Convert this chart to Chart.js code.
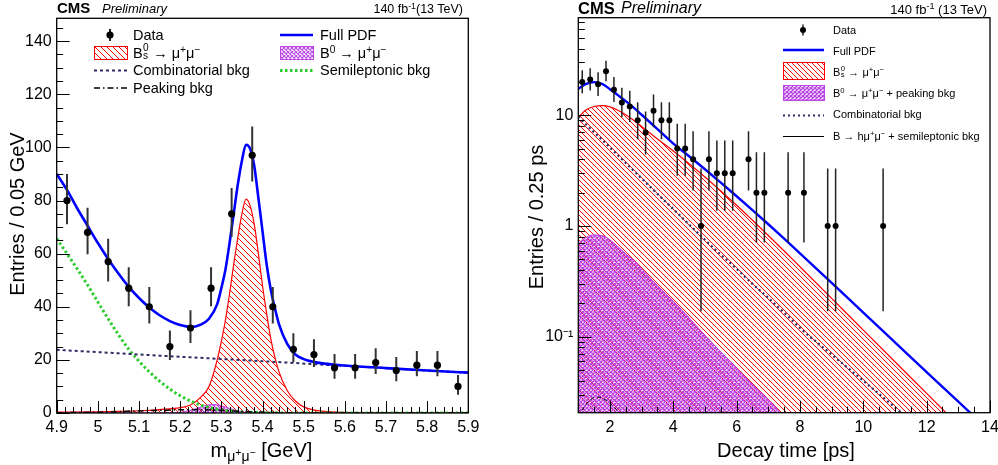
<!DOCTYPE html>
<html><head><meta charset="utf-8">
<script src="https://cdn.jsdelivr.net/npm/chart.js@4.4.0/dist/chart.umd.min.js"></script>
<style>
html,body{margin:0;padding:0;background:#fff;overflow:hidden;width:998px;height:465px}
body{position:relative;font-family:"Liberation Sans",Arial,sans-serif;color:#000}
canvas{position:absolute;top:0}
.t{position:absolute;white-space:nowrap;line-height:1}
sup{font-size:0.7em;vertical-align:0.5em;line-height:0}
sub{font-size:0.7em;vertical-align:-0.3em;line-height:0}
sub sup{font-size:0.75em;vertical-align:0.45em}
.ss{display:inline-block;position:relative;width:0.45em;height:1em;vertical-align:top}
.ss .u{position:absolute;left:0.04em;top:-0.28em;font-size:0.7em;line-height:1}
.ss .d{position:absolute;left:0.04em;top:0.52em;font-size:0.7em;line-height:1}
.rot{position:absolute;width:300px;height:20px;line-height:20px;text-align:center;font-size:20px;transform:rotate(-90deg);white-space:nowrap}
.xt{position:absolute;width:300px;text-align:center;font-size:20px;line-height:20px;white-space:nowrap}
</style></head>
<body>
<canvas id="cL" width="499" height="465" style="left:0;width:499px;height:465px"></canvas>
<canvas id="cR" width="510" height="465" style="left:499px;width:510px;height:465px"></canvas>

<!-- left panel texts -->
<div class="t" style="left:57px;top:0px;font-size:15px;font-weight:bold">CMS</div>
<div class="t" style="left:102px;top:2px;font-size:13px;font-style:italic">Preliminary</div>
<div class="t" style="right:535px;top:3px;font-size:12.5px">140 fb<sup>-1</sup>(13 TeV)</div>
<div class="t" style="left:133px;top:28px;font-size:14.5px">Data</div>
<div class="t" style="left:133px;top:45.6px;font-size:14.5px">B<span class="ss"><span class="u">0</span><span class="d">s</span></span> → μ<sup>+</sup>μ<sup>−</sup></div>
<div class="t" style="left:133px;top:63.3px;font-size:14.5px">Combinatorial bkg</div>
<div class="t" style="left:133px;top:81px;font-size:14.5px">Peaking bkg</div>
<div class="t" style="left:320px;top:28px;font-size:14.5px">Full PDF</div>
<div class="t" style="left:320px;top:45.6px;font-size:14.5px">B<sup>0</sup> → μ<sup>+</sup>μ<sup>−</sup></div>
<div class="t" style="left:320px;top:63.3px;font-size:14.5px">Semileptonic bkg</div>
<div class="rot" style="left:-133px;top:204px">Entries / 0.05 GeV</div>
<div class="xt" style="left:111.5px;top:440px">m<sub>μ<sup>+</sup>μ<sup>−</sup></sub> [GeV]</div>

<!-- right panel texts -->
<div class="t" style="left:578px;top:-0.5px;font-size:16.5px;font-weight:bold">CMS</div>
<div class="t" style="left:621px;top:0px;font-size:16px;font-style:italic">Preliminary</div>
<div class="t" style="right:11px;top:3px;font-size:13px">140 fb<sup>-1</sup> (13 TeV)</div>
<div class="t" style="left:833px;top:24.6px;font-size:11px">Data</div>
<div class="t" style="left:833px;top:45.8px;font-size:11px">Full PDF</div>
<div class="t" style="left:833px;top:67px;font-size:11px">B<span class="ss"><span class="u">0</span><span class="d">s</span></span> → μ<sup>+</sup>μ<sup>−</sup></div>
<div class="t" style="left:833px;top:88.2px;font-size:11px">B<sup>0</sup> → μ<sup>+</sup>μ<sup>−</sup> + peaking bkg</div>
<div class="t" style="left:833px;top:109.4px;font-size:11px">Combinatorial bkg</div>
<div class="t" style="left:833px;top:130.6px;font-size:11px">B → hμ<sup>+</sup>μ<sup>−</sup> + semileptonic bkg</div>
<div class="rot" style="left:386px;top:207px">Entries / 0.25 ps</div>
<div class="xt" style="left:636px;top:440px">Decay time [ps]</div>

<script>
// ---------------- LEFT PANEL DATA (mass) ----------------
const massBinCenters = [4.925,4.975,5.025,5.075,5.125,5.175,5.225,5.275,5.325,5.375,5.425,5.475,5.525,5.575,5.625,5.675,5.725,5.775,5.825,5.875];
const massCounts     = [80,68,57,47,40,25,32,47,75,97,40,24,22,17,17,19,16,18,18,10];
const massErrLow     = [8.9,8.2,7.5,6.8,6.3,5.0,5.6,6.8,8.6,9.8,6.3,4.9,4.7,4.1,4.1,4.3,4.0,4.2,4.2,3.1];
const massErrHigh    = [10.0,9.3,8.6,7.9,7.4,6.1,6.7,7.9,9.7,10.9,7.4,6.0,5.8,5.2,5.2,5.4,5.1,5.3,5.3,4.3];

const pdfMass = [4.9,4.925,4.95,4.975,5.0,5.025,5.05,5.075,5.1,5.125,5.15,5.175,5.2,5.225,5.25,5.27,5.29,5.3,5.31,5.32,5.33,5.34,5.35,5.36,5.37,5.38,5.39,5.4,5.41,5.42,5.43,5.44,5.46,5.48,5.5,5.52,5.55,5.6,5.7,5.8,5.9];
const pdfFull = [90,84,77,70.5,64,58,52.5,47.5,43.3,39.7,36.8,34.6,33.1,32.4,33.3,35.5,41,47,54,64,75,86,95,101,99.5,93,81,68.5,56,46.5,39.5,33.5,26,22,20.3,19.4,18.6,17.9,16.9,16.0,15.2];

const bsMass = [4.9,5.0,5.05,5.1,5.15,5.2,5.225,5.25,5.27,5.29,5.3,5.31,5.32,5.33,5.34,5.35,5.36,5.37,5.38,5.39,5.4,5.41,5.42,5.43,5.44,5.46,5.48,5.5,5.52,5.55,5.6,5.65,5.7,5.8,5.9];
const bsPdf  = [0.3,0.45,0.6,0.85,1.3,2.0,3.0,6.0,10,20,27,35,45,56,66,75,80.5,78,71,60,48,37.5,28,21,15.5,8.5,4.5,2.3,1.3,0.6,0.2,0.08,0.03,0.01,0];

const combMass = [4.9,5.15,5.4,5.65,5.9];
const combPdf  = [23.8,21.6,19.5,17.3,15.2];

const semiMass = [4.9,4.925,4.95,4.975,5.0,5.025,5.05,5.075,5.1,5.125,5.15,5.175,5.2,5.225,5.25,5.275,5.3,5.35,5.4,5.45,5.5,5.9];
const semiPdf  = [65.7,60,54.2,48.2,41.8,35.5,29.5,24,19.5,15.5,12,9,6.5,4.5,3.0,1.9,1.2,0.4,0.12,0.03,0,0];

const b0Mass = [4.9,5.16,5.18,5.2,5.22,5.24,5.26,5.28,5.30,5.32,5.34,5.36,5.38,5.40,5.9];
const b0Pdf  = [0,0.01,0.07,0.27,0.8,1.73,2.74,3.2,2.74,1.73,0.8,0.27,0.07,0.01,0];

const peakMass = [4.9,5.0,5.05,5.1,5.15,5.2,5.25,5.3,5.35,5.4,5.45,5.5,5.9];
const peakPdf  = [0.1,0.3,0.5,0.8,1.0,1.2,1.2,1.0,0.6,0.3,0.1,0.05,0];

const massTicks = [4.9,5.0,5.1,5.2,5.3,5.4,5.5,5.6,5.7,5.8,5.9];
const massTickLabels = ['4.9','5','5.1','5.2','5.3','5.4','5.5','5.6','5.7','5.8','5.9'];
const entriesTicks = [0,20,40,60,80,100,120,140];
const entriesTickLabels = ['0','20','40','60','80','100','120','140'];

// ---------------- RIGHT PANEL DATA (decay time) ----------------
const timeBinCenters = [1.125,1.375,1.625,1.875,2.125,2.375,2.625,2.875,3.125,3.375,3.625,3.875,4.125,4.375,4.625,4.875,5.125,5.375,5.625,5.875,6.375,6.625,6.875,7.625,8.125,8.875,9.125,10.625];
const timeCounts     = [20,21,19,25,17,13,12,9,7,11,9,9,5,5,4,1,4,3,3,3,4,2,2,2,2,1,1,1];
const timeLow        = [15.8,16.75,14.9,20.3,13.2,9.6,8.7,6.06,4.42,7.8,6.06,6.06,2.84,2.84,2.09,0.17,2.09,1.37,1.37,1.37,2.09,0.71,0.71,0.71,0.71,0.17,0.17,0.17];
const timeHigh       = [25.5,26.6,24.4,31.0,22.2,17.7,16.6,13.1,10.8,15.4,13.1,13.1,8.38,8.38,7.16,3.30,7.16,5.92,5.92,5.92,7.16,4.64,4.64,4.64,4.64,3.30,3.30,3.30];

const tGrid = [1.0,1.25,1.5,1.75,2.0,2.25,2.5,2.75,3.0,3.5,4.0,4.5,5.0,5.5,6.0,6.5,7.0,7.5,8.0,9.0,10.0,11.0,12.0,13.0,14.0];
const tFull = [17.3,19.2,19.9,19.2,17.2,15.2,13.4,11.7,10.1,7.5,5.55,4.26,3.25,2.46,1.856,1.392,1.037,0.769,0.567,0.306,0.165,0.089,0.048,0.0259,0.014];
const tBs   = [9.6,11.2,12.0,12.2,11.9,11.1,10.1,9.0,7.9,6.1,4.75,3.65,2.77,2.07,1.54,1.127,0.821,0.595,0.4285,0.222,0.1148,0.0594,0.0308,0.0159,0.0082];
const tComb = [9.7,8.2,7.0,6.0,5.1,4.35,3.7,3.15,2.69,1.95,1.42,1.03,0.75,0.55,0.41,0.30,0.224,0.165,0.12,0.069,0.040,0.023,0.0132,0.0076,0.0044];
const tB0   = [0.70,0.79,0.83,0.82,0.75,0.65,0.56,0.49,0.41,0.29,0.21,0.148,0.103,0.073,0.052,0.037,0.027,0.019,0.013,0.0065,0.0032,0.0016,0.0008,0.0004,0.0002];
const hGrid   = [1.0,1.2,1.4,1.6,1.8,2.0,2.2,2.4,2.6,3.0];
const tHmumu  = [0.019,0.0235,0.0272,0.0285,0.0275,0.025,0.022,0.019,0.016,0.011];

const timeTicks = [2,4,6,8,10,12,14];
const timeTickLabels = ['2','4','6','8','10','12','14'];
const logTicks = [0.1,1,10];
const logTickLabels = ['10\u207B\u00B9','1','10'];

// ---------------- helpers ----------------
Chart.defaults.font.family = '"Liberation Sans", Arial, sans-serif';
Chart.defaults.color = '#000';

function pts(xs, ys){ return xs.map((x,i)=>({x:x, y:ys[i]})); }

function hatch(ctx, color, size, lw, cross){
  const c = document.createElement('canvas'); c.width = size; c.height = size;
  const g = c.getContext('2d');
  g.strokeStyle = color; g.lineWidth = lw;
  g.beginPath();
  for (const o of [-size,0,size]) { g.moveTo(o,0); g.lineTo(o+size,size); }
  if (cross) for (const o of [-size,0,size]) { g.moveTo(o,size); g.lineTo(o+size,0); }
  g.stroke();
  return ctx.createPattern(c,'repeat');
}

function linTickList(min,max,step,major){
  const out=[]; const k0=Math.ceil(min/step-1e-9), k1=Math.floor(max/step+1e-9);
  for(let k=k0;k<=k1;k++){ const v=k*step; const r=v/major; out.push([v, Math.abs(r-Math.round(r))<1e-6]); }
  return out;
}
function logTickList(min,max){
  const out=[];
  for(let e=-3;e<=3;e++) for(let m=1;m<=9;m++){ const v=m*Math.pow(10,e); if(v>=min*0.999 && v<=max*1.001) out.push([v, m===1]); }
  return out;
}

function decoPlugin(o){
  return {
    id:'deco',
    beforeDatasetDraw(chart,args){
      const ds = chart.data.datasets[args.index];
      if(!ds.errLow) return;
      const ctx=chart.ctx, xs=chart.scales.x, ys=chart.scales.y, a=chart.chartArea;
      ctx.save(); ctx.beginPath(); ctx.rect(a.left,a.top,a.right-a.left,a.bottom-a.top); ctx.clip();
      ctx.strokeStyle=ds.barColor; ctx.lineWidth=ds.barWidth;
      ds.data.forEach((p,i)=>{
        const x=xs.getPixelForValue(p.x);
        ctx.beginPath(); ctx.moveTo(x, ys.getPixelForValue(ds.errLow[i])); ctx.lineTo(x, ys.getPixelForValue(ds.errHigh[i])); ctx.stroke();
      });
      ctx.restore();
    },
    afterDatasetsDraw(chart){
      const ctx=chart.ctx, a=chart.chartArea, xs=chart.scales.x, ys=chart.scales.y;
      ctx.save(); ctx.strokeStyle='#000'; ctx.lineWidth=1; ctx.setLineDash([]);
      ctx.beginPath();
      o.xTicks.forEach(([v,maj])=>{ const p=Math.round(xs.getPixelForValue(v))+0.5; if(p<a.left-1||p>a.right+1) return; ctx.moveTo(p,a.bottom); ctx.lineTo(p,a.bottom-(maj?o.xMaj:o.xMin)); });
      o.yTicks.forEach(([v,maj])=>{ const p=Math.round(ys.getPixelForValue(v))+0.5; if(p<a.top-1||p>a.bottom+1) return; ctx.moveTo(a.left,p); ctx.lineTo(a.left+(maj?o.yMaj:o.yMin),p); });
      ctx.stroke();
      ctx.lineWidth=1.3;
      ctx.strokeRect(a.left,a.top,a.right-a.left,a.bottom-a.top);
      ctx.restore();
    },
    afterDraw(chart){ o.legend(chart.ctx); }
  };
}

// ---------------- LEFT CHART ----------------
const cL = document.getElementById('cL').getContext('2d');
const NAVY = '#2c2c66', GREEN='#2ecc2e', BLUE='#0000ff', RED='#ff0000', MAG='#bb44e6';
const redL = hatch(cL,RED,6,1,false);
const magL = hatch(cL,MAG,4,1.1,true);

function legendLeft(ctx){
  ctx.save();
  ctx.strokeStyle='#222'; ctx.lineWidth=2; ctx.beginPath(); ctx.moveTo(110,29); ctx.lineTo(110,41); ctx.stroke();
  ctx.fillStyle='#000'; ctx.beginPath(); ctx.arc(110,35,3.6,0,Math.PI*2); ctx.fill();
  ctx.fillStyle=redL; ctx.fillRect(94,46.5,33,13); ctx.strokeStyle=RED; ctx.lineWidth=1; ctx.strokeRect(94.5,46.5,33,13);
  ctx.strokeStyle=NAVY; ctx.lineWidth=2; ctx.setLineDash([3,3]); ctx.beginPath(); ctx.moveTo(94,70.5); ctx.lineTo(127,70.5); ctx.stroke();
  ctx.strokeStyle='#000'; ctx.lineWidth=1.5; ctx.setLineDash([6,3,1.5,3]); ctx.beginPath(); ctx.moveTo(94,88); ctx.lineTo(127,88); ctx.stroke();
  ctx.setLineDash([]); ctx.strokeStyle=BLUE; ctx.lineWidth=2.5; ctx.beginPath(); ctx.moveTo(280,35); ctx.lineTo(313,35); ctx.stroke();
  ctx.fillStyle=magL; ctx.fillRect(280,46.5,33,13); ctx.strokeStyle=MAG; ctx.lineWidth=1; ctx.strokeRect(280.5,46.5,33,13);
  ctx.strokeStyle=GREEN; ctx.lineWidth=3; ctx.setLineDash([2.5,2.5]); ctx.beginPath(); ctx.moveTo(280,70.5); ctx.lineTo(313,70.5); ctx.stroke();
  ctx.restore();
}

new Chart(cL, {
  type:'line',
  data:{ datasets:[
    { label:'Data', data:pts(massBinCenters,massCounts),
      errLow:massCounts.map((n,i)=>n-massErrLow[i]), errHigh:massCounts.map((n,i)=>n+massErrHigh[i]),
      barColor:'#333', barWidth:2, showLine:false, pointRadius:3.6, pointBackgroundColor:'#000', pointBorderWidth:0, order:0 },
    { label:'Full PDF', data:pts(pdfMass,pdfFull), borderColor:BLUE, borderWidth:2.6, pointRadius:0, cubicInterpolationMode:'monotone', fill:false, order:1 },
    { label:'Peaking bkg', data:pts(peakMass,peakPdf), borderColor:'#000', borderWidth:1.5, borderDash:[6,3,1.5,3], pointRadius:0, cubicInterpolationMode:'monotone', fill:false, order:2 },
    { label:'Combinatorial bkg', data:pts(combMass,combPdf), borderColor:NAVY, borderWidth:2, borderDash:[3,3], pointRadius:0, cubicInterpolationMode:'monotone', fill:false, order:3 },
    { label:'Semileptonic bkg', data:pts(semiMass,semiPdf), borderColor:GREEN, borderWidth:3, borderDash:[2.5,2.5], pointRadius:0, cubicInterpolationMode:'monotone', fill:false, order:4 },
    { label:'B0', data:pts(b0Mass,b0Pdf), borderColor:MAG, borderWidth:1, backgroundColor:magL, pointRadius:0, cubicInterpolationMode:'monotone', fill:'origin', order:5 },
    { label:'Bs', data:pts(bsMass,bsPdf), borderColor:RED, borderWidth:1.2, backgroundColor:redL, pointRadius:0, cubicInterpolationMode:'monotone', fill:'origin', order:6 }
  ]},
  options:{
    responsive:false, animation:false, events:[],
    layout:{ padding:{ top:18.3, right:30.7, left:0, bottom:0 } },
    plugins:{ legend:{display:false}, tooltip:{enabled:false} },
    scales:{
      x:{ type:'linear', min:4.9, max:5.9, grid:{display:false, drawTicks:false}, border:{display:false},
          ticks:{ font:{size:16}, color:'#000', padding:5, autoSkip:false, maxRotation:0, includeBounds:false, callback:(v,i)=>massTickLabels[i] },
          afterBuildTicks:s=>{ s.ticks = massTicks.map(v=>({value:v})); },
          afterFit:s=>{ s.height = 52; } },
      y:{ type:'linear', min:0, max:148.6, grid:{display:false, drawTicks:false}, border:{display:false},
          ticks:{ font:{size:16}, color:'#000', padding:5, autoSkip:false, includeBounds:false, callback:(v,i)=>entriesTickLabels[i] },
          afterBuildTicks:s=>{ s.ticks = entriesTicks.map(v=>({value:v})); },
          afterFit:s=>{ s.width = 56.7; } }
    }
  },
  plugins:[ decoPlugin({ xTicks:linTickList(4.9,5.9,0.02,0.1), yTicks:linTickList(0,148.6,5,20), xMaj:12, xMin:6, yMaj:13, yMin:6.5, legend:legendLeft }) ]
});

// ---------------- RIGHT CHART ----------------
const cR = document.getElementById('cR').getContext('2d');
const redR = hatch(cR,RED,5,1,false);
const magR = hatch(cR,MAG,4,1.4,true);

function legendRight(ctx){
  ctx.save();
  ctx.strokeStyle='#222'; ctx.lineWidth=1.5; ctx.beginPath(); ctx.moveTo(304,24.5); ctx.lineTo(304,35.5); ctx.stroke();
  ctx.fillStyle='#000'; ctx.beginPath(); ctx.arc(304,30,3,0,Math.PI*2); ctx.fill();
  ctx.strokeStyle=BLUE; ctx.lineWidth=2.5; ctx.beginPath(); ctx.moveTo(284,50); ctx.lineTo(325,50); ctx.stroke();
  ctx.fillStyle=redR; ctx.fillRect(284,62,41,17); ctx.strokeStyle=RED; ctx.lineWidth=1; ctx.strokeRect(284.5,62.5,41,17);
  ctx.fillStyle=magR; ctx.fillRect(284,85,41,15); ctx.strokeStyle=MAG; ctx.lineWidth=1; ctx.strokeRect(284.5,85.5,41,15);
  ctx.strokeStyle=NAVY; ctx.lineWidth=2; ctx.setLineDash([2,3]); ctx.beginPath(); ctx.moveTo(284,115.5); ctx.lineTo(325,115.5); ctx.stroke();
  ctx.setLineDash([]); ctx.strokeStyle='#000'; ctx.lineWidth=1; ctx.beginPath(); ctx.moveTo(284,136.5); ctx.lineTo(325,136.5); ctx.stroke();
  ctx.restore();
}

new Chart(cR, {
  type:'line',
  data:{ datasets:[
    { label:'Data', data:pts(timeBinCenters,timeCounts), errLow:timeLow, errHigh:timeHigh,
      barColor:'#222', barWidth:1.5, showLine:false, pointRadius:3, pointBackgroundColor:'#000', pointBorderWidth:0, order:0 },
    { label:'Full PDF', data:pts(tGrid,tFull), borderColor:BLUE, borderWidth:2.4, pointRadius:0, cubicInterpolationMode:'monotone', fill:false, order:1 },
    { label:'B->hmumu + semileptonic', data:pts(hGrid,tHmumu), borderColor:'#000', borderWidth:1, borderDash:[4,3], pointRadius:0, cubicInterpolationMode:'monotone', fill:false, order:2 },
    { label:'Combinatorial bkg', data:pts(tGrid,tComb), borderColor:NAVY, borderWidth:2.2, borderDash:[2,3], pointRadius:0, cubicInterpolationMode:'monotone', fill:false, order:3 },
    { label:'B0 + peaking', data:pts(tGrid,tB0), borderColor:MAG, borderWidth:1, backgroundColor:magR, pointRadius:0, cubicInterpolationMode:'monotone', fill:'start', order:4 },
    { label:'Bs', data:pts(tGrid,tBs), borderColor:RED, borderWidth:1.2, backgroundColor:redR, pointRadius:0, cubicInterpolationMode:'monotone', fill:'start', order:5 }
  ]},
  options:{
    responsive:false, animation:false, events:[],
    layout:{ padding:{ top:17.7, right:19, left:0, bottom:0 } },
    plugins:{ legend:{display:false}, tooltip:{enabled:false} },
    scales:{
      x:{ type:'linear', min:1, max:14, grid:{display:false, drawTicks:false}, border:{display:false},
          ticks:{ font:{size:16}, color:'#000', padding:5, autoSkip:false, maxRotation:0, includeBounds:false, callback:(v,i)=>timeTickLabels[i] },
          afterBuildTicks:s=>{ s.ticks = timeTicks.map(v=>({value:v})); },
          afterFit:s=>{ s.height = 52.3; } },
      y:{ type:'logarithmic', min:0.0206, max:76, grid:{display:false, drawTicks:false}, border:{display:false},
          ticks:{ font:{size:16}, color:'#000', padding:5, autoSkip:false, callback:(v,i)=>logTickLabels[i] },
          afterBuildTicks:s=>{ s.ticks = logTicks.map(v=>({value:v})); },
          afterFit:s=>{ s.width = 79.3; } }
    }
  },
  plugins:[ decoPlugin({ xTicks:linTickList(1,14,0.5,2), yTicks:logTickList(0.0206,76), xMaj:12, xMin:6, yMaj:13, yMin:6.5, legend:legendRight }) ]
});
</script>
</body></html>
